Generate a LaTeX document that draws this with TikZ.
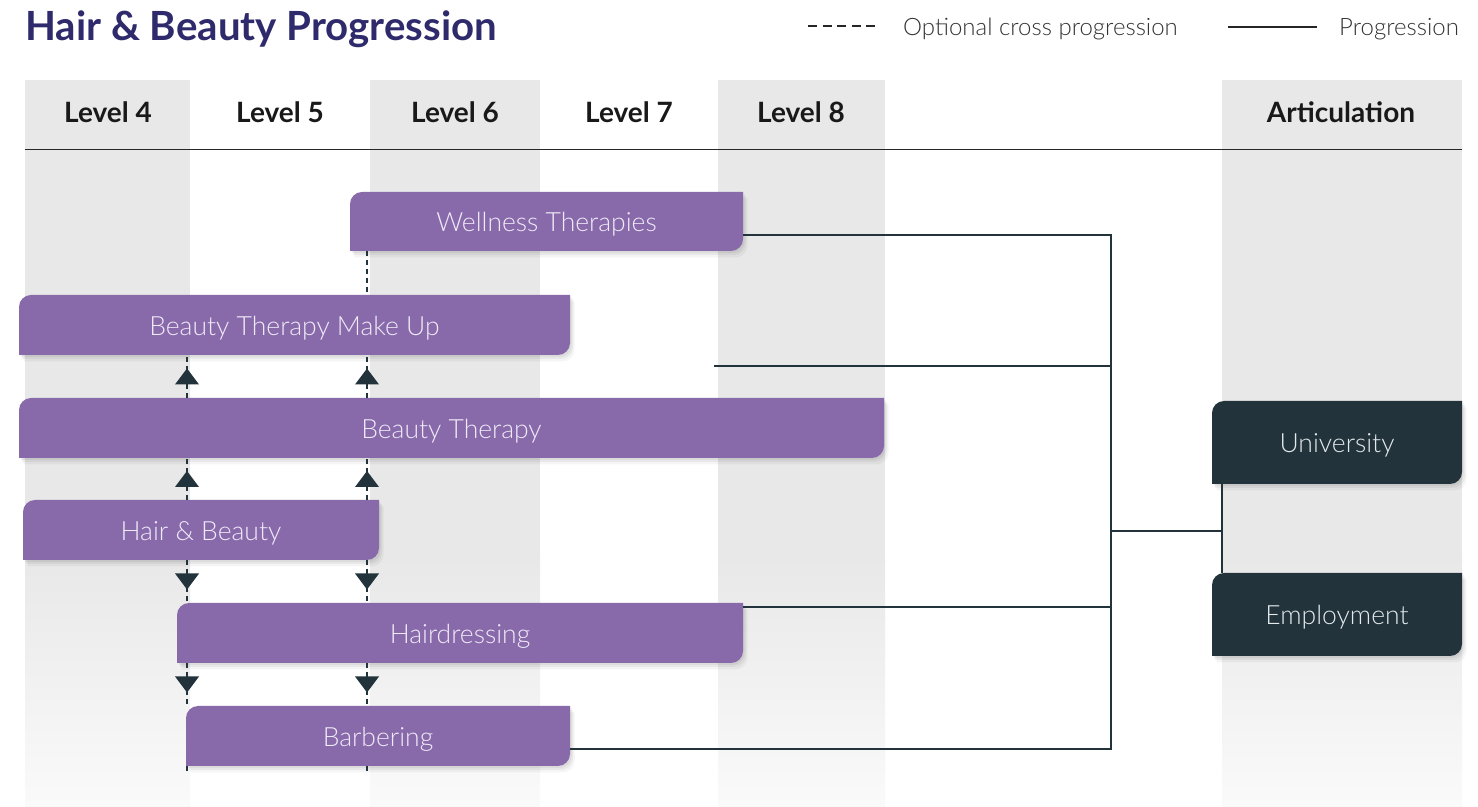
\documentclass[tikz,border=0pt]{standalone}
\usepackage{fontspec}
\setmainfont{Lato}
\IfFontExistsTF{Lato Light}{\newfontfamily\lightfont{Lato Light}}{\newfontfamily\lightfont{Lato}}
\usetikzlibrary{decorations.markings}
\pgfdeclarelayer{back}
\pgfdeclarelayer{bg}
\pgfsetlayers{back,bg,main}
\definecolor{tabpurple}{HTML}{886AAB}
\definecolor{tabdark}{HTML}{22333B}
\definecolor{titlec}{HTML}{2E2A6B}
\definecolor{bandgray}{HTML}{E8E8E8}
\definecolor{bandlow}{HTML}{FAFAFA}
\definecolor{purpletext}{HTML}{F0EAF7}
\definecolor{darktext}{HTML}{E4EAEC}
\definecolor{legtext}{HTML}{333333}
\tikzset{
  softshadow/.style={
    preaction={fill=black,opacity=0.05,transform canvas={xshift=1.5pt,yshift=-2pt}},
    preaction={fill=black,opacity=0.05,transform canvas={xshift=3pt,yshift=-4pt}},
    preaction={fill=black,opacity=0.04,transform canvas={xshift=4.5pt,yshift=-6.5pt}}},
  purplebox/.style={inner sep=0pt, outer sep=0pt, text=purpletext, font=\lightfont\fontsize{26.5}{30}\selectfont},
  purpleboxshape/.style={fill=tabpurple, softshadow},
  darkbox/.style={inner sep=0pt, outer sep=0pt, text=darktext, font=\lightfont\fontsize{26.5}{30}\selectfont},
  darkboxshape/.style={fill=tabdark, softshadow},
  header/.style={inner sep=0pt, font=\bfseries\fontsize{28}{32}\selectfont, text=black!90},
  legendtext/.style={inner sep=0pt, anchor=west, font=\lightfont\fontsize{24}{28}\selectfont, text=legtext},
  prog/.style={draw=tabdark, line width=1.7pt},
  optline/.style={draw=tabdark, line width=1.8pt, dash pattern=on 5pt off 4pt},
  midarrow/.style={postaction={decorate}, decoration={markings,
    mark=at position 0.5 with {\fill[tabdark] (8pt,0pt) -- (-8pt,12pt) -- (-8pt,-12pt) -- cycle;}}},
  band/.style={fill=bandgray, draw=none}
}
\newcommand\tabbox[7]{%
  \node[#2, minimum width={#5-#3}, minimum height={#6-#4}] (#1) at ({(#3+#5)/2},{(#4+#6)/2}) {\raisebox{-3pt}[\height][\depth]{#7}};
  \begin{pgfonlayer}{bg}
    \path[#2shape] (#1.south west) -- ([yshift=-12pt]#1.north west)
      arc[start angle=180,end angle=90,radius=12pt] -- (#1.north east)
      -- ([yshift=12pt]#1.south east) arc[start angle=0,end angle=-90,radius=12pt] -- cycle;
  \end{pgfonlayer}}
\begin{document}
\begin{tikzpicture}[x=1pt,y=1pt]
\useasboundingbox (0,0) rectangle (1478,806);
\begin{pgfonlayer}{back}
  \fill[white] (0,0) rectangle (1478,806);
  \foreach \a/\b in {25/190, 370/540, 718/885, 1222/1462}{
    \fill[band] (\a,250) rectangle (\b,726);
    \shade[top color=bandgray, bottom color=bandlow] (\a,0) rectangle (\b,250);
  }
\end{pgfonlayer}
% title and legend
\node[anchor=base west, inner sep=0pt, font=\bfseries\fontsize{40.2}{46}\selectfont, text=titlec] (title) at (25,765) {Hair \& Beauty Progression};
\coordinate (ld1) at (808,780);
\coordinate (ld2) at (876,780);
\draw[draw=black!85, line width=1.8pt, dash pattern=on 9pt off 5.5pt] (ld1) -- (ld2);
\node[legendtext] (legopt) at (903,777) {Optional cross progression};
\coordinate (ls1) at (1228,779);
\coordinate (ls2) at (1317,779);
\draw[draw=black!85, line width=1.8pt] (ls1) -- (ls2);
\node[legendtext] (legprog) at (1339,777) {Progression};
% header
\node[header] (h4) at (108,694) {Level 4};
\node[header] (h5) at (280,694) {Level 5};
\node[header] (h6) at (455,694) {Level 6};
\node[header] (h7) at (629,694) {Level 7};
\node[header] (h8) at (801,694) {Level 8};
\node[header] (hart) at (1341,694) {Articulation};
\coordinate (hl1) at (25,656);
\coordinate (hl2) at (1462,656);
\draw[draw=black!85, line width=1pt] (hl1) -- (hl2);
% boxes
\tabbox{wt}{purplebox}{350}{555}{743}{614}{Wellness Therapies}
\tabbox{mk}{purplebox}{19}{451}{570}{511}{Beauty Therapy Make Up}
\tabbox{bt}{purplebox}{19}{348}{884}{408}{Beauty Therapy}
\tabbox{hb}{purplebox}{23}{246}{379}{306}{Hair \& Beauty}
\tabbox{hd}{purplebox}{177}{143}{743}{203}{Hairdressing}
\tabbox{bb}{purplebox}{186}{40}{570}{100}{Barbering}
\tabbox{uni}{darkbox}{1212}{322}{1462}{405}{University}
\tabbox{emp}{darkbox}{1212}{150}{1462}{233}{Employment}
% optional cross progression
\coordinate (cA) at (187,0);
\coordinate (cB) at (367,0);
\coordinate (endA) at (187,34);
\coordinate (endB) at (367,34);
\draw[optline] (wt.south -| cB) -- (mk.north -| cB);
\draw[optline, midarrow] (bt.north -| cA) -- (mk.south -| cA);
\draw[optline, midarrow] (bt.north -| cB) -- (mk.south -| cB);
\draw[optline, midarrow] (hb.north -| cA) -- (bt.south -| cA);
\draw[optline, midarrow] (hb.north -| cB) -- (bt.south -| cB);
\draw[optline, midarrow] (hb.south -| cA) -- (hd.north -| cA);
\draw[optline, midarrow] (hb.south -| cB) -- (hd.north -| cB);
\draw[optline, midarrow] (hd.south -| cA) -- (bb.north -| cA);
\draw[optline, midarrow] (hd.south -| cB) -- (bb.north -| cB);
\draw[optline] (bb.south -| cA) -- (endA);
\draw[optline] (bb.south -| cB) -- (endB);
% progression
\coordinate (jt) at (1111,571);
\coordinate (jb) at (1111,57);
\coordinate (fl) at (714,440);
\coordinate (ax) at (1222,275);
\path ([yshift=26pt]hd.east) coordinate (hdc);
\draw[prog] ([yshift=-13.5pt]wt.east) -- (jt) -- (jb) -- ([yshift=-13pt]bb.east);
\draw[prog] (fl) -- (fl -| jt);
\draw[prog] (hdc) -- (hdc -| jt);
\draw[prog] (ax -| jt) -- (ax);
\draw[prog] (uni.south -| ax) -- (emp.north -| ax);
\end{tikzpicture}
\end{document}
